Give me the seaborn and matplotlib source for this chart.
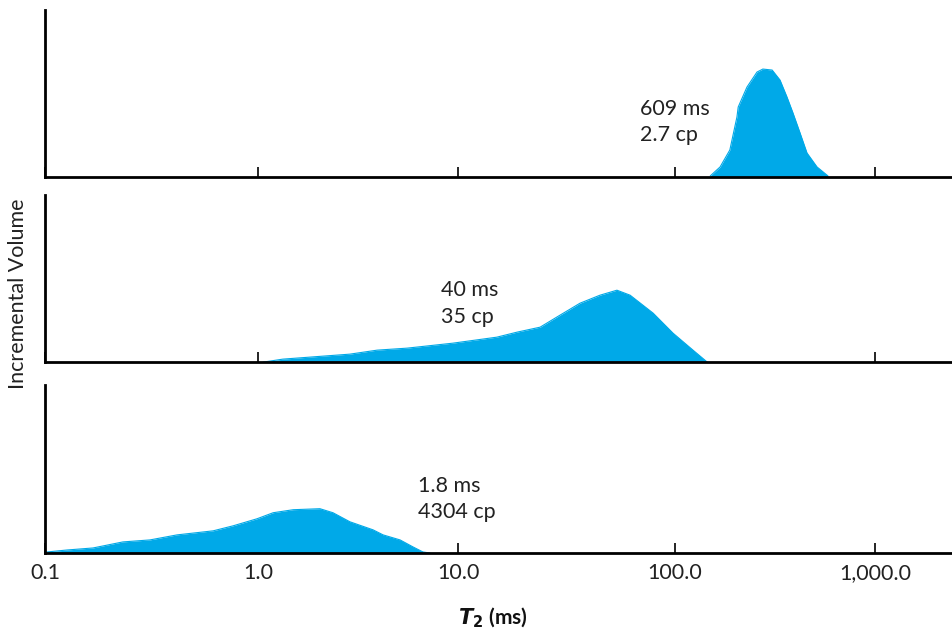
import numpy as np
import pandas as pd
import matplotlib
matplotlib.use("Agg")
import matplotlib.pyplot as plt
import seaborn as sns

# Values: T2 (ms) and relative incremental volume
top_t2 = [150, 168, 188, 204, 207, 229, 257, 275, 306, 335, 363, 389, 422, 457, 513, 582]
top_vol = [1, 10, 27, 60, 70, 90, 105, 108, 107, 97, 80, 64, 44, 24, 10, 1]

mid_t2 = [1.06, 1.33, 2.88, 3.94, 5.56, 9.44, 15.1, 18.7, 23.9, 29.5, 36.5, 45.1,
          54.0, 62.1, 79.3, 97.9, 123, 145]
mid_vol = [0, 3, 8, 12, 14, 19, 25, 30, 35, 47, 59, 67, 72, 67, 49, 29, 12, 0]

bot_t2 = [0.102, 0.127, 0.168, 0.232, 0.311, 0.417, 0.615, 0.764, 0.989, 1.19, 1.50,
          2.04, 2.37, 2.88, 3.76, 4.22, 5.13, 5.96, 6.68, 7.24]
bot_vol = [1, 3, 5, 11, 13, 18, 22, 27, 34, 40, 43, 44, 40, 31, 23, 18, 13, 6, 1, 0]

labels = ["609 ms\n2.7 cp", "40 ms\n35 cp", "1.8 ms\n4304 cp"]
tick_values = [0.1, 1.0, 10.0, 100.0, 1000.0]
tick_labels = ["0.1", "1.0", "10.0", "100.0", "1,000.0"]

sns.set_style("white")
plt.rcParams["font.family"] = ["Lato", "DejaVu Sans"]

fill_color = "#00A9E8"

# The original drawing has slightly uneven decade widths; follow them.
decade_log = [-1, 0, 1, 2, 3, 4]
decade_pos = [0, 213, 413, 630, 830, 1030]


def forward(x):
    return np.interp(np.log10(np.clip(x, 1e-6, None)), decade_log, decade_pos)


def inverse(p):
    return 10 ** np.interp(p, decade_pos, decade_log)


fig = plt.figure(figsize=(9.52, 6.32), dpi=100)

# Panel boxes: left, bottom, width, height (figure fractions)
boxes = [
    [0.0473, 0.720, 0.9527, 0.264],
    [0.0473, 0.427, 0.9527, 0.264],
    [0.0473, 0.125, 0.9527, 0.266],
]
text_pos = [(0.656, 0.47), (0.437, 0.49), (0.411, 0.46)]
curves = [(top_t2, top_vol), (mid_t2, mid_vol), (bot_t2, bot_vol)]

for i, (box, (t2, vol), label, pos) in enumerate(zip(boxes, curves, labels, text_pos)):
    ax = fig.add_axes(box)
    df = pd.DataFrame({"T2": t2, "Volume": vol})
    sns.lineplot(data=df, x="T2", y="Volume", ax=ax, color=fill_color, linewidth=0.8)
    ax.fill_between(df["T2"], 0, df["Volume"], color=fill_color, linewidth=0)

    ax.set_xscale("function", functions=(forward, inverse))
    ax.set_xlim(0.1, inverse(907))
    ax.set_ylim(0, 167)

    ax.spines["top"].set_visible(False)
    ax.spines["right"].set_visible(False)
    ax.spines["left"].set_linewidth(2)
    ax.spines["bottom"].set_linewidth(2)
    ax.spines["left"].set_color("black")
    ax.spines["bottom"].set_color("black")

    ax.set_yticks([])
    ax.set_xticks(tick_values)
    ax.xaxis.set_minor_locator(matplotlib.ticker.NullLocator())
    ax.tick_params(axis="x", direction="in", length=7, width=1.2, color="black",
                   bottom=True, pad=7, labelsize=15.5, labelcolor="#222222")
    if i < 2:
        ax.set_xticklabels([])
    else:
        ax.set_xticklabels(tick_labels)
    ax.set_xlabel("")
    ax.set_ylabel("")

    ax.text(pos[0], pos[1], label, transform=ax.transAxes, va="top", ha="left",
            fontsize=15.5, color="#222222", linespacing=1.4)

fig.text(0.019, 0.535, "Incremental Volume", rotation=90, ha="center", va="center",
         fontsize=15.5, color="#222222")
fig.text(0.518, 0.022, r"$\mathbfit{T}_{\mathbf{2}}$ (ms)", ha="center", va="center",
         fontsize=15, fontweight="bold", color="#111111")

fig.savefig("out.png", dpi=100)
